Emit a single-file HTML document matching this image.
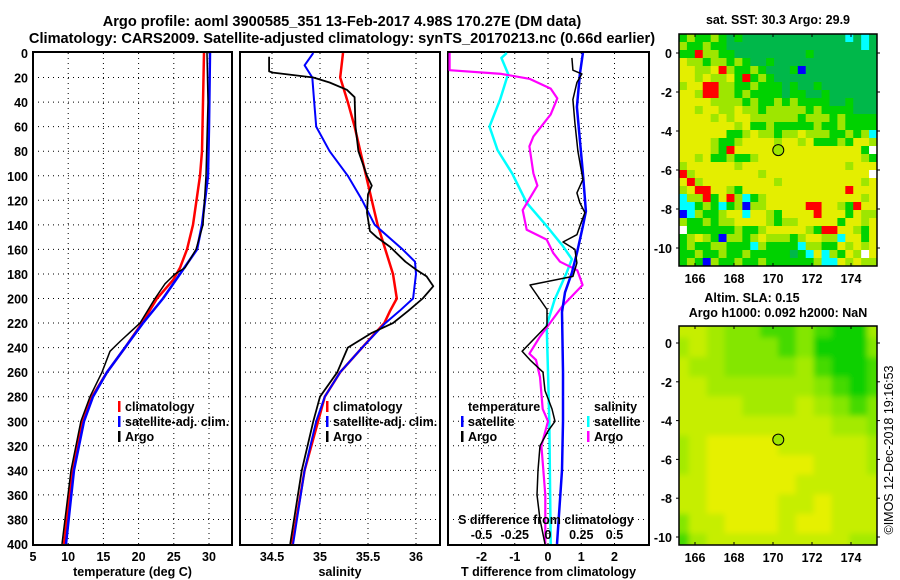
<!DOCTYPE html>
<html><head><meta charset="utf-8"><style>
body{margin:0;background:#fff;}
svg{display:block;font-family:"Liberation Sans",sans-serif;}
text{font-weight:bold;font-size:12.5px;fill:#000;}
</style></head><body>
<svg id="c" width="900" height="580" viewBox="0 0 900 580">
<text x="342" y="26" text-anchor="middle" style="font-size:14.6px">Argo profile: aoml 3900585_351 13-Feb-2017 4.98S 170.27E (DM data)</text>
<text x="342" y="43" text-anchor="middle" style="font-size:14.6px">Climatology: CARS2009. Satellite-adjusted climatology: synTS_20170213.nc (0.66d earlier)</text>
<text x="778" y="24" text-anchor="middle">sat. SST: 30.3 Argo: 29.9</text>
<text x="752" y="302" text-anchor="middle">Altim. SLA: 0.15</text>
<text x="778" y="317" text-anchor="middle">Argo h1000: 0.092 h2000: NaN</text>
<text transform="translate(893,450) rotate(-90)" text-anchor="middle" style="font-weight:normal">©IMOS 12-Dec-2018 19:16:53</text>
<g id="g"></g>
</svg>
<script>
// ---- profile data ----
const redTdepth=[0,40,80,100,140,160,175,185,200,220,240,260,280,300,340,400];
const redT=[29.29,29.15,29.0,28.72,27.73,26.88,25.88,24.89,22.61,20.48,18.07,15.51,13.38,11.96,10.54,9.40];
const blueTdepth=[0,60,100,140,160,180,200,220,240,260,280,300,340,400];
const blueT=[30.14,30.0,29.86,29.0,28.3,25.88,23.47,20.63,18.07,15.51,13.52,12.24,10.82,9.69];
const argoTdepth=[0,40,100,140,160,175,180,188,200,220,235,243,260,280,300,340,400];
const argoT=[29.72,29.86,29.57,29.15,28.15,26.59,25.17,23.75,22.33,20.2,17.36,15.94,14.8,13.1,11.8,10.4,9.12];

const redSdepth=[0,20,40,60,80,100,120,140,160,180,200,210,220,240,260,280,300,340,400];
const redS=[35.24,35.21,35.29,35.36,35.42,35.48,35.54,35.60,35.68,35.76,35.80,35.73,35.67,35.44,35.21,35.05,34.98,34.84,34.71];
const blueSdepth=[0,10,20,40,60,80,100,120,140,160,170,180,200,210,220,240,260,280,300,340,400];
const blueS=[34.93,34.84,34.92,34.94,34.96,35.10,35.29,35.44,35.57,35.86,35.99,36.0,35.97,35.83,35.68,35.44,35.21,35.05,34.96,34.84,34.72];
const argoSdepth=[3,15,16,20,24,30,36,60,80,100,108,115,130,145,150,158,170,177,182,190,200,210,220,228,240,260,280,300,340,400];
const argoS=[34.47,34.47,34.51,34.93,35.10,35.28,35.36,35.37,35.40,35.49,35.54,35.50,35.49,35.52,35.59,35.73,35.89,36.01,36.11,36.18,36.07,35.92,35.76,35.54,35.29,35.18,35.0,34.93,34.81,34.69];

const dTsatDepth=[0,17,44,71,98,129,141,163,179,195,211,260,300,340,400];
const dTsat=[1.05,0.96,0.87,0.96,1.05,1.14,1.05,0.87,0.72,0.51,0.42,0.45,0.45,0.42,0.27];
const dTargoDepth=[4,14,17,24,38,57,80,103,114,122,130,141,148,154,160,171,182,189,209,222,243,250,260,275,290,300,308,320,340,360,380,400];
const dTargo=[0.72,0.75,1.02,0.87,0.75,0.81,0.9,1.05,0.87,0.96,1.11,0.96,0.87,0.45,0.81,0.87,0.75,-0.54,-0.03,-0.03,-0.78,-0.54,-0.15,-0.09,0.12,0.21,0.0,-0.24,-0.3,-0.33,-0.24,-0.09];
const dSsatDepth=[0,4,17,38,60,79,98,122,141,157,168,179,201,222,260,300,400];
const dSsat=[-0.31,-0.35,-0.30,-0.36,-0.44,-0.38,-0.27,-0.16,-0.01,0.11,0.18,0.14,0.05,-0.01,0.0,0.01,0.02];
const dSargoDepth=[0,14,17,21,29,37,50,68,76,98,108,128,144,152,163,170,177,189,206,231,245,250,264,290,300,320,360,400];
const dSargo=[-0.74,-0.74,-0.35,-0.14,0.02,0.07,0.02,-0.11,-0.14,-0.11,-0.08,-0.19,-0.16,-0.01,0.04,0.09,0.22,0.26,0.11,-0.06,-0.14,-0.09,-0.06,-0.04,0,-0.05,-0.02,-0.02];

const depthTicks=[0,20,40,60,80,100,120,140,160,180,200,220,240,260,280,300,320,340,360,380,400];
const tTicks=[5,10,15,20,25,30];
const sTicks=[34.5,35,35.5,36];
const dTTicks=[-2,-1,0,1,2];
const dSTickLabels=["-0.5","-0.25","0","0.25","0.5"];
const dSTicks=[-0.5,-0.25,0,0.25,0.5];

// ---- map data (colour classes) ----
const sstRows=[
"GLGGLGDGDDDDDDDDDDDDDCDCD","LGGLGGDDDDDDDDDDDDDDDDDCD","GGRLLGGDDDDDDDDDGDDDDDDDD","YLLGLLGLGDDGDDDDDDDDDDDDD",
"YYLLYRLGGLGDDDGBDDDDDDDDD","YYLYLLYGRGLGDDDDDDDDDDDDD","LYYRRLLGGLGGGDGDDGDDDDDDD","YYLRRLLGLGGGGDGGDDGDDDDDD",
"YYYYLLLLGLGGLGLGGGGDDGDDD","YYLYYLLYLLGLLLLLGLGGGGDDD","YYYYLYLYYLLLLLLGLLLGLGGGG","YYYYYYYLYGGLGGGGGLGGLGGGG",
"YYYYYYGGLYLLGLLYLLLGGLGLC","YYYYLGGLYYYYLYYLYGGGLGYYL","YYYYLGRYYYYYYYYYYYYYYYYGW","YYLYGGLGGLYYYYYYYYYYYYYLG",
"LYYYYYYLYYYYYYYYYYYYYLYYY","RLYYYYYYYYLYYYYYYYYYYYYYW","YRLYYYYYYYYYLYYYYYYYYYYLY","LYRRYYLGYYYYYYYYYYYYYRYYY",
"CLLRGYRLCGLYYYYYYYYYYYYLY","CCGLGCGLBLLYYYYYRRYYLGRYY","BCLGGLYYCYYLGYYYYRYYYGYLL","LGGLGLLYYYYLGLLYYYYYGYYLY",
"WGGGGGGLGGLYYYYYLGRRYYLGY","GLYLGBLLGLYLLLGLYYLLCYYGY","GLGGLLGGGCLGGGGCLLGGYLYLY","GGLGGLGGLGGGGGDGCYCLGYLWY",
"GLGBLGGLGGLGGGGGGLCCYLYLL"];
const slaRows=[
"KKLMMGGMGHHL","LKLMMMGMHHHM","KLLMMMMLGHHG","KKLLLLLLMGHG","KKKKLLLKLMGM","KKKKKKKKKLLM",
"LKYYYYKKKKKL","LKYYYYYYKKKL","KKYYYYYKKKKK","KKYYYYKKYKKK","MKKYYYKYYKKK","GLKKKKKKKKLL"];
const argoLon=170.27, argoLat=-4.98;
const mapLonTicks=[166,168,170,172,174];
const mapLatTicks=[0,-2,-4,-6,-8,-10];

const NS="http://www.w3.org/2000/svg";
const G=document.getElementById('g');
function el(tag,attrs,parent,txt){const e=document.createElementNS(NS,tag);for(const k in attrs)e.setAttribute(k,attrs[k]);if(txt!==undefined)e.textContent=txt;(parent||G).appendChild(e);return e;}

const Y0=53,Y1=544;
const yD=d=>Y0+(d/400)*(Y1-Y0);
const panels=[
 {x0:33,x1:232,f:v=>33+(v-5)*7.04,ticks:tTicks,lab:"temperature (deg C)",name:"temperature"},
 {x0:240,x1:440,f:v=>272+(v-34.5)*96,ticks:sTicks,lab:"salinity",name:"salinity"},
 {x0:448,x1:649,f:v=>548+v*33.25,ticks:dTTicks,lab:"T difference from climatology",name:"difference"}];
const fS=v=>548+v*133;

panels.forEach((p,i)=>{
  const grp=el('g',{});
  
  
  depthTicks.forEach(d=>{ if(d>0&&d<400){const l=el('line',{x1:p.x0,x2:p.x1,y1:yD(d),y2:yD(d),stroke:'#000','stroke-width':1,'stroke-dasharray':'1,4'},grp);
    }});
  p.ticks.forEach(t=>{const x=p.f(t);
    if(x>p.x0+2&&x<p.x1-2){const l=el('line',{x1:x,x2:x,y1:Y0,y2:Y1,stroke:'#000','stroke-width':1,'stroke-dasharray':'1,4'},grp);
      }
    const tx=el('text',{x:x,y:561,'text-anchor':'middle'},grp,String(t));
    
  });
  const tl=el('text',{x:(p.x0+p.x1)/2,y:576,'text-anchor':'middle'},grp,p.lab);
  
  const fr=el('rect',{x:p.x0,y:Y0-1,width:p.x1-p.x0,height:Y1-Y0+2,fill:'none',stroke:'#000','stroke-width':2},grp);
  
});
depthTicks.forEach(d=>{const t=el('text',{x:28,y:yD(d)+5,'text-anchor':'end'},G,String(d));
  });

function line(depths,vals,fx,color,w,name){
  const pts=depths.map((d,i)=>fx(vals[i]).toFixed(1)+','+yD(d).toFixed(1)).join(' ');
  const pl=el('polyline',{points:pts,fill:'none',stroke:color,'stroke-width':w,'stroke-linejoin':'round'});
  
  
}
const P=panels;
line(redTdepth,redT,P[0].f,'#f00',2.5,'temperature-climatology-line');
line(blueTdepth,blueT,P[0].f,'#00f',2.5,'temperature-satellite-line');
line(argoTdepth,argoT,P[0].f,'#000',1.5,'temperature-argo-line');
line(redSdepth,redS,P[1].f,'#f00',2.5,'salinity-climatology-line');
line(blueSdepth,blueS,P[1].f,'#00f',2,'salinity-satellite-line');
line(argoSdepth,argoS,P[1].f,'#000',1.8,'salinity-argo-line');
line(dSsatDepth,dSsat,fS,'#0ff',2.5,'s-diff-satellite-line');
line(dSargoDepth,dSargo,fS,'#f0f',2.2,'s-diff-argo-line');
line(dTsatDepth,dTsat,P[2].f,'#00f',2.5,'t-diff-satellite-line');
line(dTargoDepth,dTargo,P[2].f,'#000',1.5,'t-diff-argo-line');

const st=el('text',{x:546,y:524,'text-anchor':'middle'},G,'S difference from climatology');

dSTicks.forEach((v,i)=>{const t=el('text',{x:fS(v),y:539,'text-anchor':'middle'},G,dSTickLabels[i]);
  });

function leg(x,y,color,label){
  if(color){const r=el('rect',{x:x,y:y-10,width:2.5,height:11,fill:color});
    }
  const t=el('text',{x:x+7,y:y},G,label);
  
}
leg(118,411,'#f00','climatology');leg(118,426,'#00f','satellite-adj. clim.');leg(118,441,'#000','Argo');
leg(326,411,'#f00','climatology');leg(326,426,'#00f','satellite-adj. clim.');leg(326,441,'#000','Argo');
leg(461,411,null,'temperature');leg(461,426,'#00f','satellite');leg(461,441,'#000','Argo');
leg(587,411,null,'salinity');leg(587,426,'#0ff','satellite');leg(587,441,'#f0f','Argo');

const sstCol={Y:'#e4ee00',L:'#9ee600',G:'#00d200',D:'#00b84a',R:'#ff0000',C:'#00ffff',B:'#0000ff',W:'#ffffff'};
const slaCol={Y:'#e6f000',K:'#c6ee00',L:'#a4ea00',M:'#84e600',G:'#44da00',H:'#08d000'};
const defs=el('defs',{});
const cp1=el('clipPath',{id:'cp1'},defs);el('rect',{x:679,y:34,width:198,height:232},cp1);
const cp2=el('clipPath',{id:'cp2'},defs);el('rect',{x:679,y:326,width:198,height:219},cp2);
const bl=el('filter',{id:'bl',x:'-10%',y:'-10%',width:'120%',height:'120%'},defs);el('feGaussianBlur',{stdDeviation:3},bl);

function drawMap(rows,cols,x0,y0,w,h,clip,blur,latY,name){
  const g=el('g',{'clip-path':'url(#'+clip+')'});
  
  const inner=el('g',blur?{filter:'url(#bl)'}:{},g);
  const nr=rows.length,nc=rows[0].length;
  const pad=blur?8:0;
  const cw=(w+2*pad)/nc,ch=(h+2*pad)/nr;
  rows.forEach((r,i)=>{for(let j=0;j<nc;j++){
    const c=el('rect',{x:(x0-pad+j*cw).toFixed(2),y:(y0-pad+i*ch).toFixed(2),width:(cw+0.6).toFixed(2),height:(ch+0.6).toFixed(2),fill:cols[r[j]]},inner);
    
  }});
  const lx=lon=>695+(lon-166)*19.5;
  const cc=el('circle',{cx:lx(argoLon),cy:latY(argoLat),r:5.5,fill:'#9ee600',stroke:'#000','stroke-width':1});
  
  const fr=el('rect',{x:x0,y:y0,width:w,height:h,fill:'none',stroke:'#000','stroke-width':1.5});
  
  mapLatTicks.forEach(l=>{const y=latY(l);
    el('line',{x1:x0-3,x2:x0,y1:y,y2:y,stroke:'#000'});el('line',{x1:x0+w,x2:x0+w+3,y1:y,y2:y,stroke:'#000'});
    const t=el('text',{x:x0-7,y:y+5,'text-anchor':'end'},G,String(l));
    });
  mapLonTicks.forEach(l=>{const x=lx(l);
    el('line',{x1:x,x2:x,y1:y0,y2:y0+3,stroke:'#000'});el('line',{x1:x,x2:x,y1:y0+h-3,y2:y0+h,stroke:'#000'});
    const t=el('text',{x:x,y:y0+h+17,'text-anchor':'middle'},G,String(l));
    });
}
drawMap(sstRows,sstCol,679,34,198,232,'cp1',false,l=>53-l*19.5,'sst-map');
drawMap(slaRows,slaCol,679,326,198,219,'cp2',true,l=>343-l*19.4,'sla-map');
</script>
</body></html>
